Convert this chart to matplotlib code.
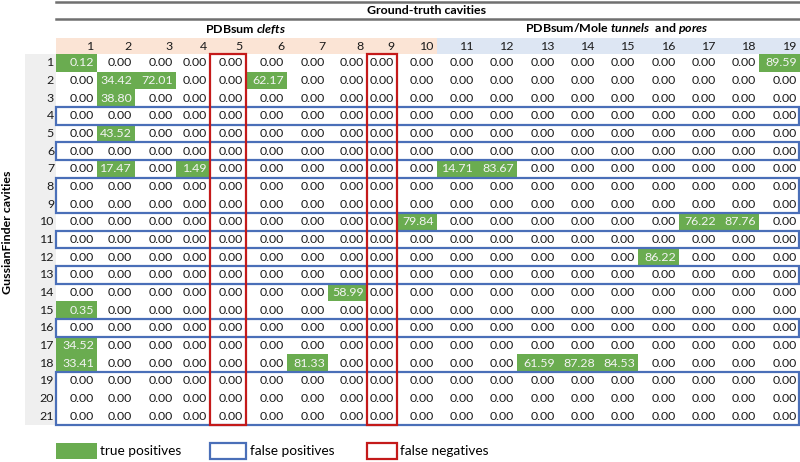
import numpy as np
import matplotlib.pyplot as plt
from matplotlib.patches import Rectangle

plt.rcParams['font.family'] = ['Lato', 'DejaVu Sans']
plt.rcParams['mathtext.fontset'] = 'custom'
plt.rcParams['mathtext.it'] = 'Lato:italic:bold'
plt.rcParams['mathtext.rm'] = 'Lato:bold'

# Ground-truth cavities (columns) vs GussianFinder cavities (rows)
col_labels = [str(i) for i in range(1, 20)]
row_labels = [str(i) for i in range(1, 22)]
n_clefts = 10  # columns 1-10 are PDBsum clefts, 11-19 tunnels/pores

# non-zero overlaps: (row, col, value), 1-based
hits_row = [1, 1, 2, 2, 2, 3, 5, 7, 7, 7, 7, 10, 10, 10, 12, 14, 15, 17, 18, 18, 18, 18, 18]
hits_col = [1, 19, 2, 3, 6, 2, 2, 2, 4, 11, 12, 10, 17, 18, 16, 8, 1, 1, 1, 7, 13, 14, 15]
hits_val = [0.12, 89.59, 34.42, 72.01, 62.17, 38.80, 43.52, 17.47, 1.49, 14.71, 83.67,
            79.84, 76.22, 87.76, 86.22, 58.99, 0.35, 34.52, 33.41, 81.33, 61.59, 87.28, 84.53]

# false positive row groups and false negative columns
fp_groups = [(4, 4), (6, 6), (8, 9), (11, 11), (13, 13), (16, 16), (19, 21)]
fn_cols = [5, 9]

values = np.zeros((len(row_labels), len(col_labels)))
for r, c, v in zip(hits_row, hits_col, hits_val):
    values[r - 1, c - 1] = v

# layout (pixels)
col_edges = [56, 97, 135, 176, 210, 246, 287, 328, 367, 397, 437, 477, 517, 558, 598, 638, 679, 719, 759, 800]
row_top, row_h = 54, 17.67
green = '#6aac50'
blue = '#4a6fb8'
red = '#c41a1a'
fs = 8.9

fig = plt.figure(figsize=(8, 4.62), dpi=100)
ax = fig.add_axes([0, 0, 1, 1])
ax.set_xlim(0, 800)
ax.set_ylim(462, 0)
ax.axis('off')

def ry(i):
    return row_top + i * row_h

# top rules and group titles
ax.plot([56, 800], [2, 2], color='#707070', lw=1.8)
ax.plot([56, 800], [19, 19], color='#707070', lw=1.8)
ax.text(427, 11, 'Ground-truth cavities', ha='center', va='center', fontsize=fs, fontweight='bold')
ax.text(246, 29, r'PDBsum $clefts$', ha='center', va='center', fontsize=fs, fontweight='bold')
ax.text(617, 29, r'PDBsum/Mole $tunnels$  and $pores$', ha='center', va='center',
        fontsize=fs, fontweight='bold')

# column header row
for j, lab in enumerate(col_labels):
    x0, x1 = col_edges[j], col_edges[j + 1]
    bg = '#fbe4d5' if j < n_clefts else '#dde6f3'
    ax.add_patch(Rectangle((x0, 38), x1 - x0, row_top - 38, color=bg, lw=0))
    ax.text(x1 - 3, 46, lab, ha='right', va='center', fontsize=fs, color='#1a1a1a')

# row label column
ax.add_patch(Rectangle((25, row_top), 31, ry(len(row_labels)) - row_top, color='#efefef', lw=0))
for i, lab in enumerate(row_labels):
    ax.text(54, ry(i) + row_h / 2, lab, ha='right', va='center', fontsize=fs, color='#1a1a1a')
ax.text(8, ry(len(row_labels)) / 2 + 20, 'GussianFinder cavities', rotation=90, ha='center', va='center',
        fontsize=fs, fontweight='bold')

# cells
for i in range(len(row_labels)):
    for j in range(len(col_labels)):
        x0, x1 = col_edges[j], col_edges[j + 1]
        v = values[i, j]
        tc = '#1a1a1a'
        if v > 0:
            ax.add_patch(Rectangle((x0, ry(i)), x1 - x0, row_h, color=green, lw=0))
            tc = '#f4f4f4'
        ax.text(x1 - 3, ry(i) + row_h / 2, f'{v:.2f}', ha='right', va='center', fontsize=fs, color=tc)

# false positives (blue boxes over whole rows)
for a, b in fp_groups:
    ax.add_patch(Rectangle((col_edges[0], ry(a - 1)), col_edges[-1] - col_edges[0] - 1,
                           ry(b) - ry(a - 1), fill=False, ec=blue, lw=1.6))

# false negatives (red boxes over whole columns)
for c in fn_cols:
    ax.add_patch(Rectangle((col_edges[c - 1], ry(0)), col_edges[c] - col_edges[c - 1],
                           ry(len(row_labels)) - ry(0), fill=False, ec=red, lw=1.6, zorder=5))

# legend
ly = 443
lfs = 9.8
ax.add_patch(Rectangle((56, ly), 41, 16, color=green, lw=0))
ax.text(100, ly + 8, 'true positives', va='center', fontsize=lfs)
ax.add_patch(Rectangle((210, ly), 36, 16, fill=False, ec=blue, lw=1.6))
ax.text(250, ly + 8, 'false positives', va='center', fontsize=lfs)
ax.add_patch(Rectangle((367, ly), 30, 16, fill=False, ec=red, lw=1.6))
ax.text(400, ly + 8, 'false negatives', va='center', fontsize=lfs)

fig.savefig('out.png', dpi=100)
